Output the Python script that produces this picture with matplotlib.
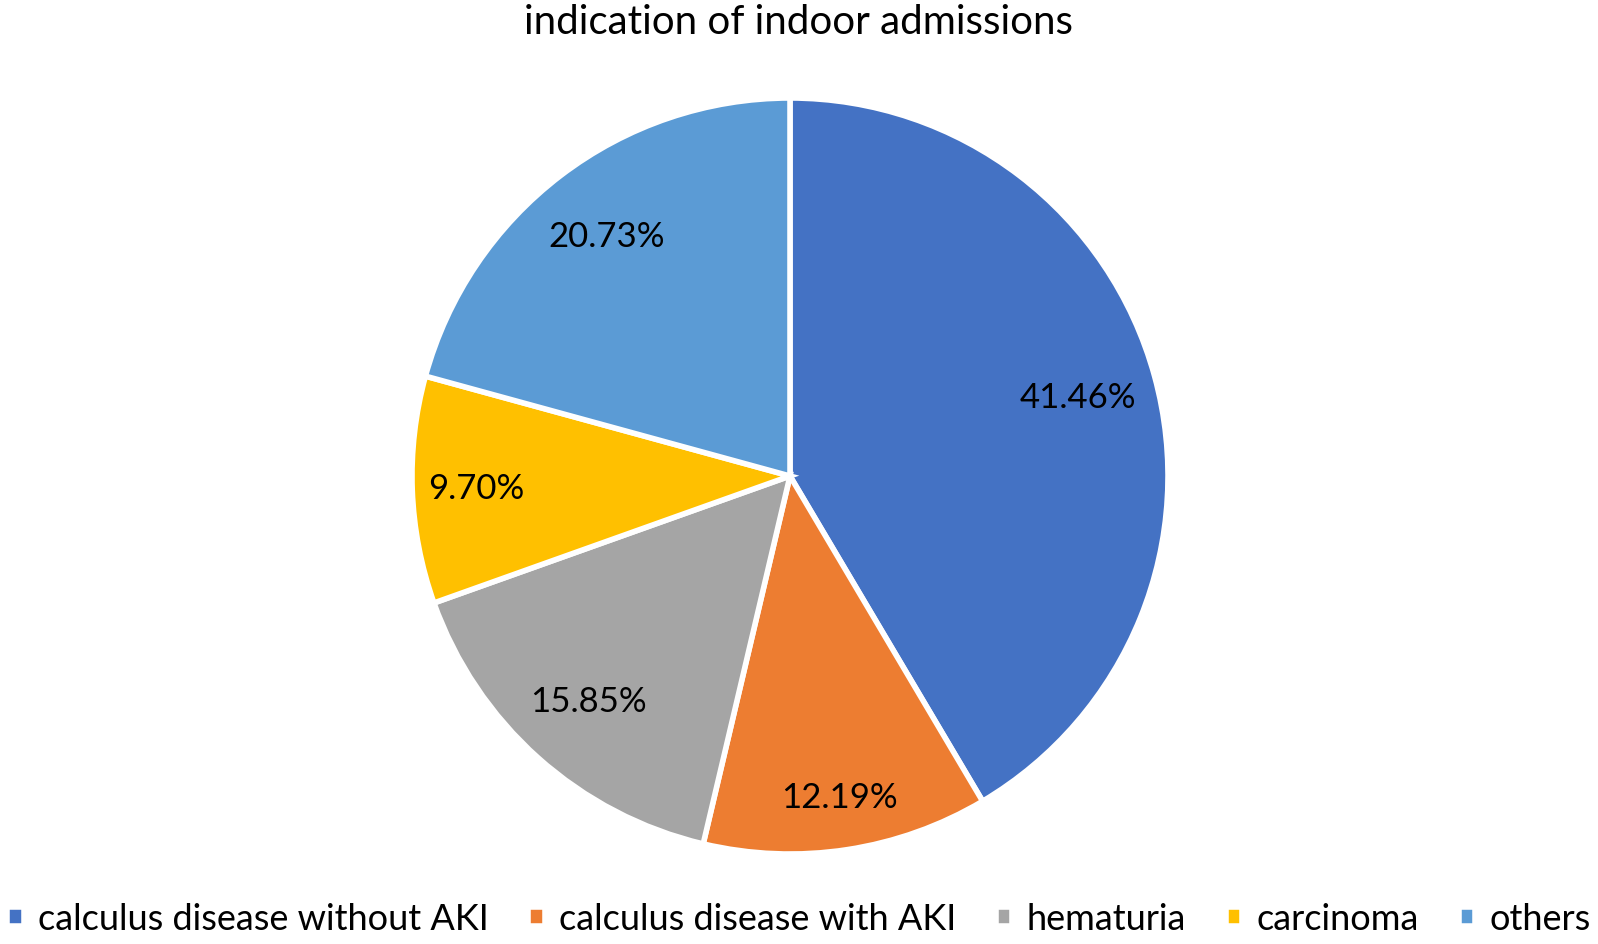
import matplotlib.pyplot as plt

# --- data ---
categories = ["calculus disease without AKI", "calculus disease with AKI",
              "hematuria", "carcinoma", "others"]
values = [41.46, 12.19, 15.85, 9.70, 20.73]
colors = ["#4472C4", "#ED7D31", "#A5A5A5", "#FFC000", "#5B9BD5"]

plt.rcParams['font.family'] = ['Lato', 'DejaVu Sans']

fig = plt.figure(figsize=(15.98, 9.45), dpi=100)
# pie axes: centre ~ (790, 477) px, radius ~ 378 px
cx, cy, r = 790 / 1598, 1 - 477 / 945, 378
ax = fig.add_axes([cx - r / 1598, cy - r / 945, 2 * r / 1598, 2 * r / 945])

lbl = iter([f"{v:.2f}%" for v in values])
wedges, texts, autotexts = ax.pie(
    values, colors=colors, startangle=90, counterclock=False,
    autopct=lambda p: next(lbl), pctdistance=0.8,
    wedgeprops=dict(edgecolor='white', linewidth=4),
    textprops=dict(fontsize=25, color='black'))

# nudge small-slice labels outward a bit, like Excel does
for t, d in zip(autotexts, [0.79, 0.86, 0.8, 0.83, 0.8]):
    x, y = t.get_position()
    t.set_position((x * d / 0.8, y * d / 0.8))

ax.set_xlim(-1, 1)
ax.set_ylim(-1, 1)
ax.set_aspect('equal')
ax.axis('off')

fig.text(0.5, 1 - 22 / 945, "indication of indoor admissions",
         ha='center', va='center', fontsize=29)

fig.legend(wedges, categories, loc='center', bbox_to_anchor=(0.5, 1 - 920 / 945),
           ncol=5, frameon=False, fontsize=26, handlelength=0.45,
           handleheight=0.45, handletextpad=0.4, columnspacing=1.1)

fig.savefig("out.png", dpi=100)
